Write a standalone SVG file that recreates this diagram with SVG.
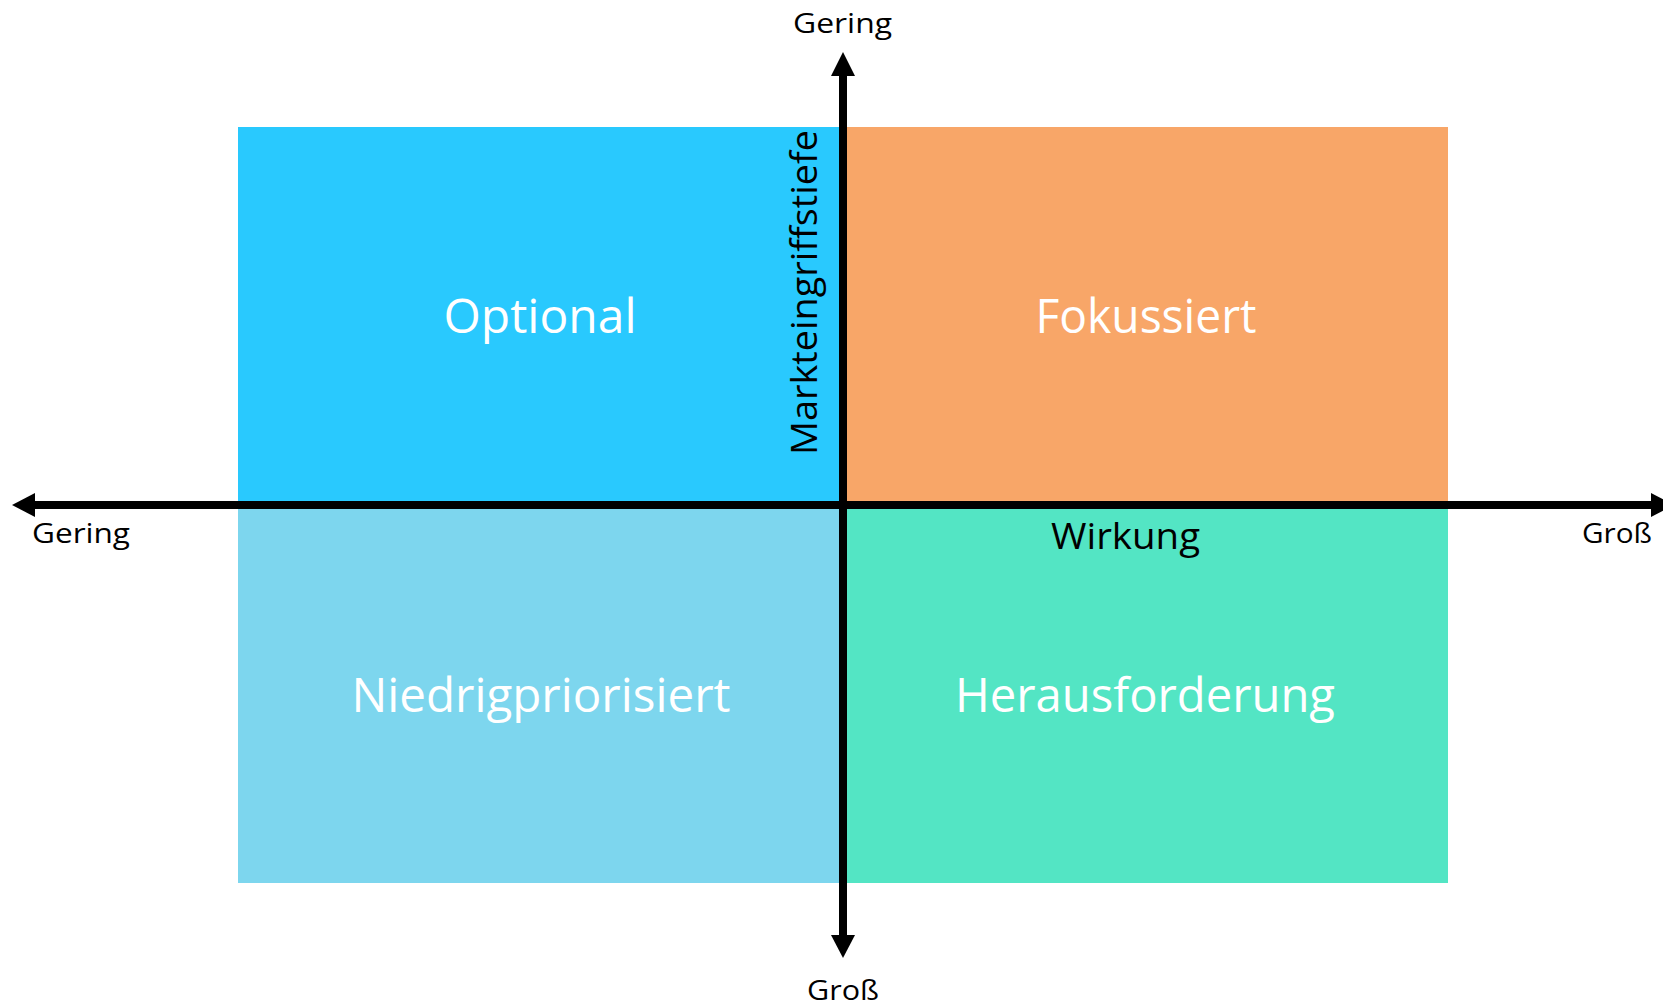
<svg xmlns="http://www.w3.org/2000/svg" width="1663" height="1008" viewBox="0 0 1663 1008">
<style>
text{font-family:"Open Sans","Noto Sans","Liberation Sans",sans-serif}
.q{fill:#ffffff;font-size:48px;text-anchor:middle}
.lab{fill:#000000;font-size:28px}
.ax{stroke:#000000;stroke-width:8;fill:none}
.head{fill:#000000}
</style>
<rect width="1663" height="1008" fill="#ffffff"/>
<g id="optional">
<rect x="238" y="127" width="605" height="378" fill="#29C9FE"/>
<text class="q" x="540" y="333" textLength="193" lengthAdjust="spacingAndGlyphs">Optional</text>
</g>
<g id="fokussiert">
<rect x="843" y="127" width="605" height="378" fill="#F8A668"/>
<text class="q" x="1146" y="333" textLength="221" lengthAdjust="spacingAndGlyphs">Fokussiert</text>
</g>
<g id="niedrigpriorisiert">
<rect x="238" y="505" width="605" height="378" fill="#7DD6EE"/>
<text class="q" x="541" y="712" textLength="379" lengthAdjust="spacingAndGlyphs">Niedrigpriorisiert</text>
</g>
<g id="herausforderung">
<rect x="843" y="505" width="605" height="378" fill="#53E5C4"/>
<text class="q" x="1145" y="712" textLength="380" lengthAdjust="spacingAndGlyphs">Herausforderung</text>
</g>
<g id="connectors">
<line class="ax" x1="35" y1="505" x2="1651" y2="505"/>
<polygon class="head" points="12,505 35,493 35,517"/>
<polygon class="head" points="1674,505 1651,493 1651,517"/>
<line class="ax" x1="843" y1="76" x2="843" y2="935"/>
<polygon class="head" points="843,52 831,76 855,76"/>
<polygon class="head" points="843,958 831,935 855,935"/>
</g>
<g id="labels">
<text class="lab" x="793" y="33" textLength="99" lengthAdjust="spacingAndGlyphs">Gering</text>
<text class="lab" x="32" y="543" textLength="98" lengthAdjust="spacingAndGlyphs">Gering</text>
<text class="lab" x="1582" y="543" textLength="70" lengthAdjust="spacingAndGlyphs">Groß</text>
<text class="lab" x="807" y="1000" textLength="72" lengthAdjust="spacingAndGlyphs">Groß</text>
<text class="lab" x="1051" y="549" style="font-size:36px" textLength="149" lengthAdjust="spacingAndGlyphs">Wirkung</text>
<text class="lab" transform="translate(817,455) rotate(-90)" x="0" y="0" style="font-size:37px" textLength="325" lengthAdjust="spacingAndGlyphs">Markteingriffstiefe</text>
</g>
</svg>
